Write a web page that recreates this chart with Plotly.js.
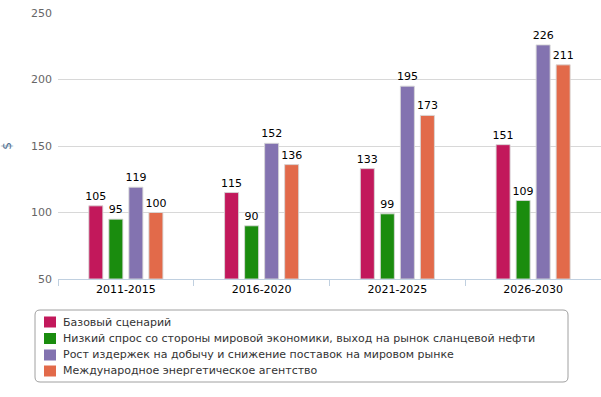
<!DOCTYPE html>
<html>
<head>
<meta charset="utf-8">
<script src="https://cdn.plot.ly/plotly-3.0.1.min.js"></script>
<style>html,body{margin:0;padding:0;background:#fff;}#chart{width:601px;height:397px;}</style>
</head>
<body>
<div id="chart"></div>
<script>
const categories = ["2011-2015", "2016-2020", "2021-2025", "2026-2030"];
const seriesNames = [
  "Базовый сценарий",
  "Низкий спрос со стороны мировой экономики, выход на рынок сланцевой нефти",
  "Рост издержек на добычу и снижение поставок на мировом рынке",
  "Международное энергетическое агентство"
];
const baseValues = [105, 115, 133, 151];
const lowDemandValues = [95, 90, 99, 109];
const costGrowthValues = [119, 152, 195, 226];
const ieaValues = [100, 136, 173, 211];
const colors = ["#c2185b", "#1a8c0e", "#8373b0", "#e26a4a"];
const yTicks = [50, 100, 150, 200, 250];

const W = 601, H = 397, ML = 58, MR = 0, MT = 13, MB = 118;
const PW = W - ML - MR, PH = H - MT - MB;
const px = x => (x - ML) / PW;
const py = y => (H - MB - y) / PH;

const allValues = [baseValues, lowDemandValues, costGrowthValues, ieaValues];
const traces = allValues.map((vals, i) => ({
  type: "bar",
  name: seriesNames[i],
  x: categories,
  y: vals.map(v => v - 50),
  base: 50,
  text: vals.map(String),
  textposition: "outside",
  constraintext: "none",
  cliponaxis: false,
  textfont: {family: "DejaVu Sans, sans-serif", size: 11, color: "#000"},
  marker: {color: colors[i], line: {color: "rgba(215,215,215,0.9)", width: 1}},
  hoverinfo: "none",
  showlegend: false
}));

// manual legend (rounded box, swatches, labels)
const bx0 = 35, bx1 = 568, by0 = 310, by1 = 382, r = 5;
const boxPath = [
  `M${px(bx0 + r)},${py(by0)}`,
  `L${px(bx1 - r)},${py(by0)}`,
  `Q${px(bx1)},${py(by0)} ${px(bx1)},${py(by0 + r)}`,
  `L${px(bx1)},${py(by1 - r)}`,
  `Q${px(bx1)},${py(by1)} ${px(bx1 - r)},${py(by1)}`,
  `L${px(bx0 + r)},${py(by1)}`,
  `Q${px(bx0)},${py(by1)} ${px(bx0)},${py(by1 - r)}`,
  `L${px(bx0)},${py(by0 + r)}`,
  `Q${px(bx0)},${py(by0)} ${px(bx0 + r)},${py(by0)}`,
  "Z"
].join(" ");
const rowY = [322, 338.5, 355, 371];
const shapes = [{
  type: "path", xref: "paper", yref: "paper", path: boxPath,
  line: {color: "#a0a0a0", width: 1}, fillcolor: "rgba(0,0,0,0)", layer: "above"
}];
const annotations = [];
seriesNames.forEach((name, i) => {
  shapes.push({
    type: "rect", xref: "paper", yref: "paper",
    x0: px(44), x1: px(56), y0: py(rowY[i] - 5.5), y1: py(rowY[i] + 5.5),
    fillcolor: colors[i], line: {width: 0}
  });
  annotations.push({
    xref: "paper", yref: "paper", x: px(61), y: py(rowY[i]),
    xanchor: "left", yanchor: "middle", showarrow: false,
    text: name, font: {family: "DejaVu Sans, sans-serif", size: 11, color: "#333"}
  });
});

const layout = {
  width: W, height: H,
  margin: {l: ML, r: MR, t: MT, b: MB},
  paper_bgcolor: "#fff", plot_bgcolor: "#fff",
  barmode: "group", bargap: 0.41, bargroupgap: 0.3,
  font: {family: "DejaVu Sans, sans-serif", size: 11, color: "#333"},
  showlegend: false,
  xaxis: {
    type: "category",
    showgrid: false,
    showline: true, linecolor: "#c0d0e0", linewidth: 1,
    ticks: "outside", tickson: "boundaries", ticklen: 6, tickcolor: "#c0d0e0",
    tickfont: {size: 11, color: "#000"}
  },
  yaxis: {
    range: [50, 250],
    tickvals: yTicks,
    ticktext: yTicks.map(String),
    showgrid: true, gridcolor: "#d8d8d8", gridwidth: 1,
    zeroline: false, showline: false,
    ticks: "", ticklen: 0, ticklabelstandoff: 5,
    tickfont: {size: 11, color: "#666"},
    title: {text: "$", font: {size: 12, color: "#4d6e8f"}, standoff: 22}
  },
  shapes: shapes,
  annotations: annotations
};

Plotly.newPlot("chart", traces, layout, {displayModeBar: false, staticPlot: true});
</script>
</body>
</html>
